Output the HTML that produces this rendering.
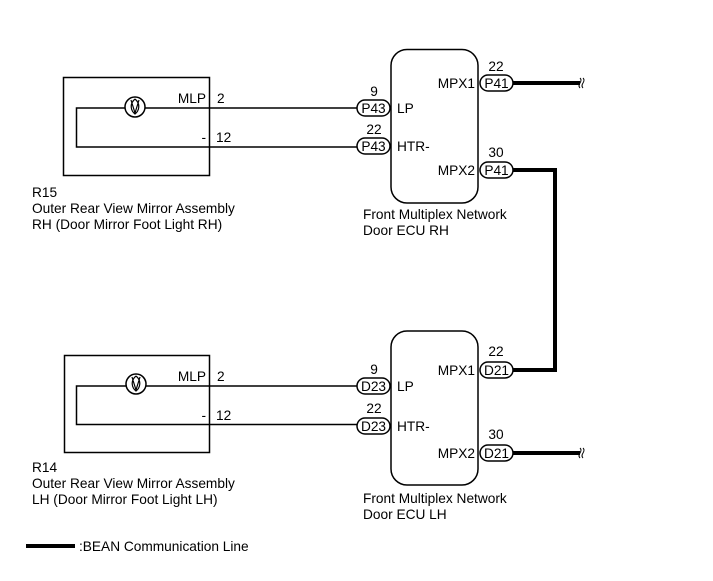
<!DOCTYPE html>
<html><head><meta charset="utf-8"><style>
html,body{margin:0;padding:0;background:#fff}
svg{display:block}
text{font-family:"Liberation Sans",Arial,sans-serif;font-size:13.7px;fill:#000}
</style></head><body>
<svg width="713" height="581" viewBox="0 0 713 581" xmlns="http://www.w3.org/2000/svg">
<g fill="none" stroke="#000" stroke-width="1.5">
 <rect x="63.5" y="77.5" width="146" height="98"/>
 <polyline points="358,108 76.5,108 76.5,147 358,147"/>
 <circle cx="135" cy="107" r="10" fill="#fff"/>
 <path d="M135,99 C129,104 131,111 135,114 C139,111 141,104 135,99 M131,100 L135,113 M139,100 L135,113" stroke-width="1.2"/>
 <rect x="64.5" y="355.5" width="145" height="97"/>
 <polyline points="358,386 76.5,386 76.5,424.5 358,424.5"/>
 <circle cx="136" cy="384" r="10" fill="#fff"/>
 <path d="M136,376 C130,381 132,388 136,391 C140,388 142,381 136,376 M132,377 L136,390 M140,377 L136,390" stroke-width="1.2"/>
 <rect x="391" y="49.5" width="87" height="153.5" rx="16"/>
 <rect x="391" y="331" width="87" height="154" rx="16"/>
 <rect x="357" y="100" width="33" height="16" rx="8" fill="#fff"/>
 <rect x="357" y="138" width="33" height="16" rx="8" fill="#fff"/>
 <rect x="480" y="75" width="33" height="16" rx="8" fill="#fff"/>
 <rect x="480" y="162" width="33" height="16" rx="8" fill="#fff"/>
 <rect x="357" y="378" width="33" height="16" rx="8" fill="#fff"/>
 <rect x="357" y="418" width="33" height="16" rx="8" fill="#fff"/>
 <rect x="480" y="362" width="33" height="16" rx="8" fill="#fff"/>
 <rect x="480" y="445" width="33" height="16" rx="8" fill="#fff"/>
</g>
<g fill="none" stroke="#000" stroke-width="4">
 <line x1="513" y1="83" x2="580" y2="83"/>
 <polyline points="513,170 555,170 555,370 513,370"/>
 <line x1="513" y1="453" x2="580" y2="453"/>
 <line x1="26" y1="546" x2="75" y2="546"/>
</g>
<g fill="none" stroke="#000" stroke-width="1">
 <path d="M580,78 q2,2 0,5 q-2,3 0,5 M583,78 q2,2 0,5 q-2,3 0,5"/>
 <path d="M580,448 q2,2 0,5 q-2,3 0,5 M583,448 q2,2 0,5 q-2,3 0,5"/>
</g>
<text x="373.5" y="113" text-anchor="middle">P43</text>
<text x="373.5" y="151" text-anchor="middle">P43</text>
<text x="496.5" y="88" text-anchor="middle">P41</text>
<text x="496.5" y="175" text-anchor="middle">P41</text>
<text x="373.5" y="391" text-anchor="middle">D23</text>
<text x="373.5" y="431" text-anchor="middle">D23</text>
<text x="496.5" y="375" text-anchor="middle">D21</text>
<text x="496.5" y="458" text-anchor="middle">D21</text>
<text x="374" y="96" text-anchor="middle">9</text>
<text x="374" y="134" text-anchor="middle">22</text>
<text x="496" y="71" text-anchor="middle">22</text>
<text x="496" y="157" text-anchor="middle">30</text>
<text x="374" y="374" text-anchor="middle">9</text>
<text x="374" y="413" text-anchor="middle">22</text>
<text x="496" y="356" text-anchor="middle">22</text>
<text x="496" y="439" text-anchor="middle">30</text>
<text x="397" y="113">LP</text>
<text x="397" y="151">HTR-</text>
<text x="475" y="88" text-anchor="end">MPX1</text>
<text x="475" y="175" text-anchor="end">MPX2</text>
<text x="397" y="391">LP</text>
<text x="397" y="431">HTR-</text>
<text x="475" y="375" text-anchor="end">MPX1</text>
<text x="475" y="458" text-anchor="end">MPX2</text>
<text x="206" y="103" text-anchor="end">MLP</text>
<text x="217" y="103">2</text>
<text x="206" y="142" text-anchor="end">-</text>
<text x="216" y="142">12</text>
<text x="206" y="381" text-anchor="end">MLP</text>
<text x="217" y="381">2</text>
<text x="206" y="420" text-anchor="end">-</text>
<text x="216" y="420">12</text>
<text x="32" y="197">R15</text>
<text x="32" y="213">Outer Rear View Mirror Assembly</text>
<text x="32" y="229">RH (Door Mirror Foot Light RH)</text>
<text x="32" y="472">R14</text>
<text x="32" y="488">Outer Rear View Mirror Assembly</text>
<text x="32" y="504">LH (Door Mirror Foot Light LH)</text>
<text x="363" y="219">Front Multiplex Network</text>
<text x="363" y="235">Door ECU RH</text>
<text x="363" y="503">Front Multiplex Network</text>
<text x="363" y="519">Door ECU LH</text>
<text x="79" y="551">:BEAN Communication Line</text>
</svg>
</body></html>
